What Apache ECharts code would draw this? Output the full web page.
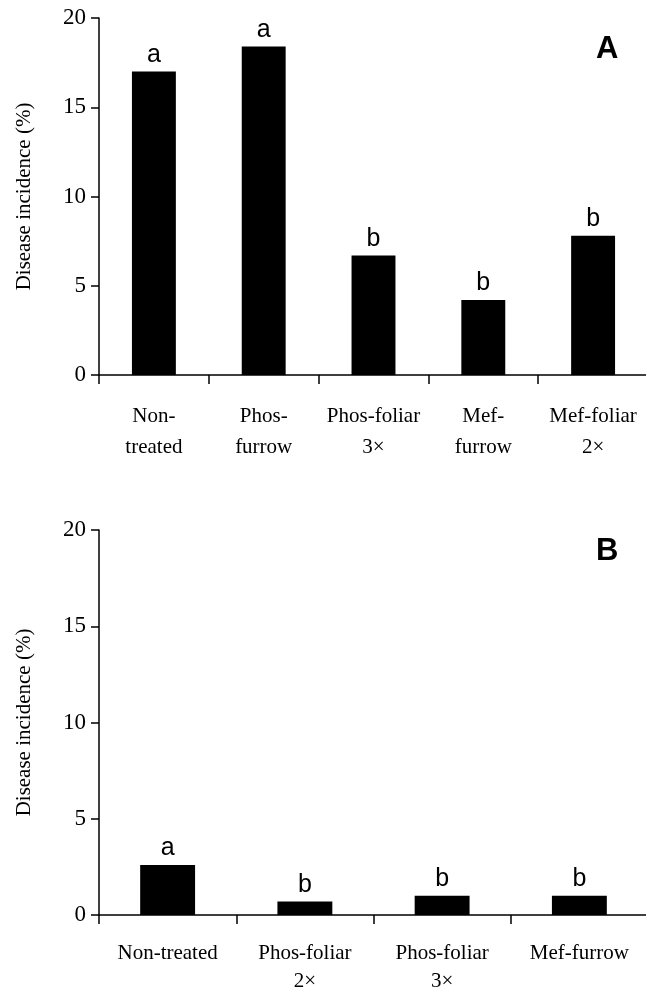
<!DOCTYPE html>
<html>
<head>
<meta charset="utf-8">
<script src="https://cdn.jsdelivr.net/npm/echarts@6/dist/echarts.min.js"></script>
<style>
  html, body { margin: 0; padding: 0; background: #fff; }
  #main { width: 646px; height: 988px; }
</style>
</head>
<body>
<div id="main"></div>
<script>
// panel A
var catsA = ['Non-\ntreated', 'Phos-\nfurrow', 'Phos-foliar\n3\u00d7', 'Mef-\nfurrow', 'Mef-foliar\n2\u00d7'];
var valsA = [17.0, 18.4, 6.7, 4.2, 7.8];
var lettersA = ['a', 'a', 'b', 'b', 'b'];
// panel B
var catsB = ['Non-treated', 'Phos-foliar\n2\u00d7', 'Phos-foliar\n3\u00d7', 'Mef-furrow'];
var valsB = [2.6, 0.7, 1.0, 1.0];
var lettersB = ['a', 'b', 'b', 'b'];
var yTicks = [0, 5, 10, 15, 20];

var serif = '"Liberation Serif", "DejaVu Serif", serif';
var sans = '"Liberation Sans", Arial, sans-serif';
var ink = '#000';

function xAxisFor(idx, cats, lh, margin) {
    return {
        type: 'category', gridIndex: idx, data: cats,
        axisLine: { lineStyle: { color: ink, width: 1.5 } },
        axisTick: { show: true, alignWithLabel: false, length: 9, lineStyle: { color: ink, width: 1.5 } },
        axisLabel: { color: ink, fontFamily: serif, fontSize: 21, lineHeight: lh, margin: margin, interval: 0 }
    };
}
function yAxisFor(idx) {
    return {
        type: 'value', gridIndex: idx, min: yTicks[0], max: yTicks[yTicks.length - 1], interval: 5,
        name: 'Disease incidence (%)', nameLocation: 'middle', nameGap: 64,
        nameTextStyle: { color: ink, fontFamily: serif, fontSize: 21 },
        axisLine: { show: true, lineStyle: { color: ink, width: 1.5 } },
        axisTick: { show: true, length: 8, lineStyle: { color: ink, width: 1.5 } },
        axisLabel: { color: ink, fontFamily: serif, fontSize: 23, margin: 13 },
        splitLine: { show: false }
    };
}
function barsFor(idx, vals, letters) {
    return {
        type: 'bar', xAxisIndex: idx, yAxisIndex: idx, data: vals, barWidth: '40%',
        itemStyle: { color: ink },
        label: {
            show: true, position: 'top', distance: 4, color: ink,
            fontFamily: sans, fontSize: 25,
            formatter: function (p) { return letters[p.dataIndex]; }
        }
    };
}

var chart = echarts.init(document.getElementById('main'));
chart.setOption({
    animation: false,
    grid: [
        { left: 99, top: 18, width: 549, height: 357, outerBoundsMode: 'none', containLabel: false },
        { left: 99, top: 530, width: 549, height: 385, outerBoundsMode: 'none', containLabel: false }
    ],
    xAxis: [xAxisFor(0, catsA, 31, 26), xAxisFor(1, catsB, 28, 24)],
    yAxis: [yAxisFor(0), yAxisFor(1)],
    series: [barsFor(0, valsA, lettersA), barsFor(1, valsB, lettersB)],
    graphic: [
        { type: 'text', left: 596, top: 34, style: { text: 'A', fontFamily: sans, fontWeight: 'bold', fontSize: 31, fill: ink } },
        { type: 'text', left: 596, top: 536, style: { text: 'B', fontFamily: sans, fontWeight: 'bold', fontSize: 31, fill: ink } }
    ]
});
</script>
</body>
</html>
